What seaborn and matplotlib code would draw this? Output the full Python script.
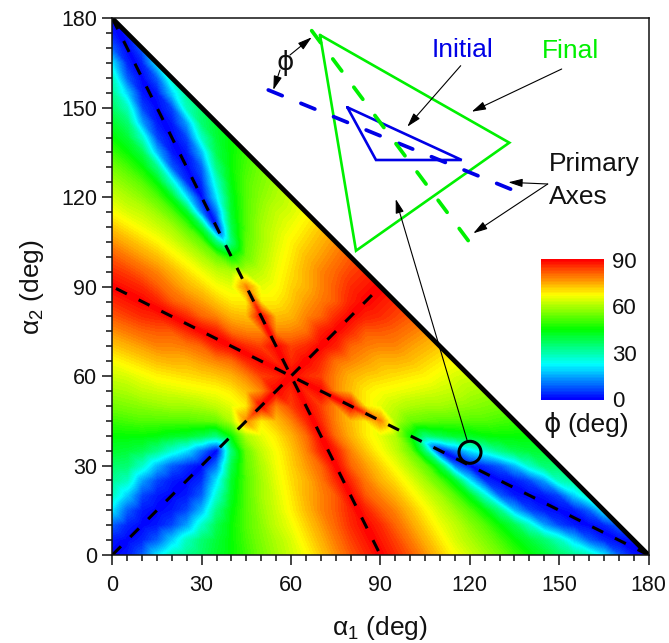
import matplotlib
matplotlib.use("Agg")
import matplotlib.pyplot as plt
import matplotlib.tri as mtri
import matplotlib.ticker as mticker
from matplotlib.patches import Circle
import numpy as np
import seaborn as sns

sns.set_style("ticks")
plt.rcParams["font.family"] = ["Liberation Sans", "DejaVu Sans"]
plt.rcParams["mathtext.fontset"] = "custom"
plt.rcParams["mathtext.rm"] = "Liberation Sans"
plt.rcParams["mathtext.default"] = "regular"
plt.rcParams["text.color"] = "#111111"
plt.rcParams["axes.labelcolor"] = "#111111"
plt.rcParams["xtick.labelcolor"] = "#111111"
plt.rcParams["ytick.labelcolor"] = "#111111"

# phi (deg), one list per smallest angle a, on a 5 deg step.
# Each list starts at b = a and runs while b <= c (a <= b <= c, a + b + c = 180).
phi_a0 = [0, 2, 8, 20, 28, 32, 36, 41, 45, 50, 55, 59, 63, 67, 72, 77, 82, 86, 90]
phi_a5 = [0, 3, 8, 18, 28, 35, 40, 45, 51, 56, 60, 64, 69, 74, 79, 84, 88]
phi_a10 = [0, 2, 6, 14, 27, 38, 45, 52, 57, 62, 66, 71, 76, 81, 86, 90]
phi_a15 = [0, 2, 6, 16, 33, 44, 52, 58, 63, 68, 73, 78, 82, 87]
phi_a20 = [0, 2, 8, 26, 42, 52, 59, 64, 69, 74, 78, 82, 90]
phi_a25 = [0, 4, 20, 41, 52, 59, 65, 70, 74, 79, 86]
phi_a30 = [0, 10, 38, 53, 60, 66, 71, 76, 81, 90]
phi_a35 = [0, 34, 54, 62, 67, 72, 78, 87]
phi_a40 = [45, 60, 65, 69, 74, 80, 90]
phi_a45 = [78, 69, 73, 78, 86]
phi_a50 = [90, 78, 84, 90]
phi_a55 = [90, 86]
phi_a60 = [90]

phi_rows = {0: phi_a0, 5: phi_a5, 10: phi_a10, 15: phi_a15, 20: phi_a20, 25: phi_a25,
            30: phi_a30, 35: phi_a35, 40: phi_a40, 45: phi_a45, 50: phi_a50,
            55: phi_a55, 60: phi_a60}

axis_ticks = [0, 30, 60, 90, 120, 150, 180]
bar_ticks = [0, 30, 60, 90]

RAINBOW = ["#0000ff", "#00ffff", "#00ff00", "#ffff00", "#ff0000"]
GREEN = "#00f000"
BLUE = "#0000e6"
FS = 19

cmap = sns.blend_palette(RAINBOW, n_colors=256, as_cmap=True)


def build_mesh(step=5):
    # triangular lattice, the map is the same for any ordering of the three angles
    index, xs, ys, zs = {}, [], [], []
    for x in range(0, 181, step):
        for y in range(0, 181 - x, step):
            a, b, _ = sorted((x, y, 180 - x - y))
            index[(x, y)] = len(xs)
            xs.append(x)
            ys.append(y)
            zs.append(phi_rows[a][(b - a) // step])

    tris = set()
    for x, y in index:
        if (x + step, y) in index and (x, y + step) in index:
            tris.add(frozenset([(x, y), (x + step, y), (x, y + step)]))
        if (x + step, y + step) in index:
            tris.add(frozenset([(x + step, y), (x + step, y + step), (x, y + step)]))

    # flip cell diagonals so mesh edges run along the three ridge lines
    def flip(p, q, r, s):
        t1, t2 = frozenset([p, r, s]), frozenset([q, r, s])
        if t1 in tris and t2 in tris:
            tris.difference_update([t1, t2])
            tris.update([frozenset([p, q, r]), frozenset([p, q, s])])

    for k in range(0, 90, step):
        flip((k, k), (k + step, k + step), (k + step, k), (k, k + step))
    for k in range(18):
        x, y = k * step, 180 - k * 2 * step
        flip((x, y), (x + step, y - 2 * step), (x, y - step), (x + step, y - step))
        flip((y, x), (y - 2 * step, x + step), (y - step, x), (y - step, x + step))

    triangles = [[index[v] for v in t] for t in tris]
    return mtri.Triangulation(xs, ys, triangles), np.array(zs, dtype=float)


fig = plt.figure(figsize=(6.69, 6.43), dpi=100)
ax = fig.add_axes([112.3 / 669, (643 - 555) / 643, 536.2 / 669, 536.7 / 643])

mesh, phi = build_mesh()
ax.tricontourf(mesh, phi, levels=np.linspace(0, 90, 91), cmap=cmap, vmin=0, vmax=90)

# ridge / valley lines
dash = (0, (4.0, 4.3))
for lx, ly in [([0, 90], [0, 90]), ([0, 90], [180, 0]), ([180, 0], [0, 90])]:
    sns.lineplot(x=lx, y=ly, ax=ax, color="black", linewidth=2.2, linestyle=dash,
                 sort=False, estimator=None, legend=False)
sns.lineplot(x=[0, 180], y=[180, 0], ax=ax, color="black", linewidth=3.4,
             sort=False, estimator=None, legend=False)

ax.set_xlim(0, 180)
ax.set_ylim(0, 180)
ax.set_xticks(axis_ticks)
ax.set_yticks(axis_ticks)
ax.xaxis.set_minor_locator(mticker.MultipleLocator(5))
ax.yaxis.set_minor_locator(mticker.MultipleLocator(5))
ax.tick_params(which="major", length=7.5, width=1.1, labelsize=15.5, color="#111111")
ax.tick_params(which="minor", length=4, width=1.1, color="#111111")
ax.tick_params(axis="x", which="major", pad=7)
ax.tick_params(axis="y", which="major", pad=3.5)
ax.set_xlabel(r"$\alpha_1$ (deg)", fontsize=FS, labelpad=13)
ax.set_ylabel(r"$\alpha_2$ (deg)", fontsize=FS, labelpad=10.5)
for sp in ax.spines.values():
    sp.set_linewidth(1.1)
    sp.set_color("#111111")
    sp.set_visible(True)

# colour bar
cax = fig.add_axes([541 / 669, (643 - 400) / 643, 63 / 669, 141 / 643])
ramp = np.arange(0, 90.5, 1.0).reshape(-1, 1)
sns.heatmap(ramp, ax=cax, cmap=cmap, vmin=0, vmax=90, cbar=False,
            xticklabels=False, yticklabels=False)
cax.set_ylim(0, len(ramp))
cax.yaxis.tick_right()
cax.set_yticks([v + 0.5 for v in bar_ticks], [str(v) for v in bar_ticks], rotation=0)
cax.tick_params(axis="y", length=0, labelsize=16, pad=6)

# inset sketch, in figure pixels
ov = fig.add_axes([0, 0, 1, 1], facecolor="none")
ov.set_xlim(0, 669)
ov.set_ylim(643, 0)
ov.axis("off")


def poly(pts, color, lw=1.9):
    pts = pts + pts[:1]
    ov.plot([p[0] for p in pts], [p[1] for p in pts], color=color, lw=lw,
            solid_joinstyle="miter")


def arrow(start, end, lw=0.8):
    ov.annotate("", xy=end, xytext=start,
                arrowprops=dict(arrowstyle="-|>,head_length=0.85,head_width=0.25",
                                color="black", lw=lw, shrinkA=0, shrinkB=0))


poly([(320, 35), (509.3, 142.7), (356, 250.7)], GREEN)
poly([(347.3, 107.3), (461.7, 160), (376, 160)], BLUE)
ov.plot([268.3, 523.3], [90, 194.3], color=BLUE, lw=2.7, dashes=(4.0, 5.4), dash_capstyle="round")
ov.plot([311.7, 477.7], [30.7, 253.3], color=GREEN, lw=2.7, dashes=(4.0, 5.4), dash_capstyle="round")

arrow((290, 55), (311.7, 37.3))
arrow((280, 70), (273.3, 90))
arrow((460.7, 65.7), (407.3, 126.7))
arrow((561.7, 69), (471.7, 111.7))
arrow((547.7, 184), (508.3, 182.3))
arrow((547.7, 184), (473.3, 233.3))
arrow((467.3, 441), (395.7, 199))
ov.add_patch(Circle((470, 452.3), 11, fill=False, ec="black", lw=2.2))

ov.text(285, 62.5, "\u03d5", family="DejaVu Sans", fontsize=FS, ha="center", va="center")
ov.text(462, 50, "Initial", color=BLUE, fontsize=FS, ha="center", va="center")
ov.text(570, 51, "Final", color=GREEN, fontsize=FS, ha="center", va="center")
ov.text(549, 164, "Primary", fontsize=FS, ha="left", va="center")
ov.text(549, 197, "Axes", fontsize=FS, ha="left", va="center")
ov.text(552.5, 425, "\u03d5", family="DejaVu Sans", fontsize=FS, ha="center", va="center")
ov.text(567, 425, "(deg)", fontsize=FS, ha="left", va="center")

fig.savefig("out.png", dpi=100)
